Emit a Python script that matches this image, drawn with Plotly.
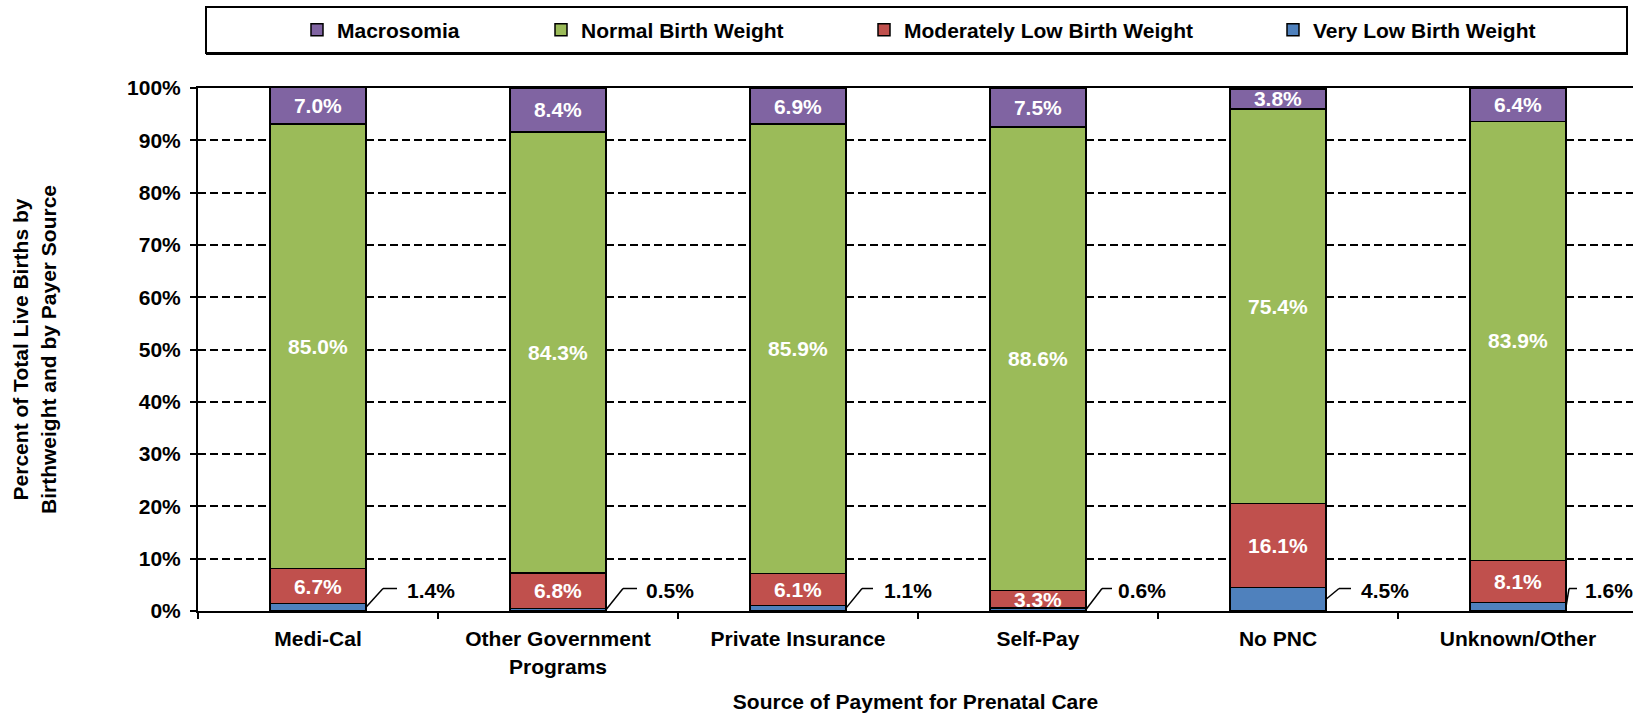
import plotly.graph_objects as go

# ---------------- data ----------------
categories = ["Medi-Cal", "Other Government<br>Programs", "Private Insurance",
              "Self-Pay", "No PNC", "Unknown/Other"]
very_low = [1.4, 0.5, 1.1, 0.6, 4.5, 1.6]
moderately_low = [6.7, 6.8, 6.1, 3.3, 16.1, 8.1]
normal = [85.0, 84.3, 85.9, 88.6, 75.4, 83.9]
macrosomia = [7.0, 8.4, 6.9, 7.5, 3.8, 6.4]
y_ticks = list(range(0, 101, 10))
y_tick_labels = [f"{v}%" for v in y_ticks]

# ---------------- geometry / style ----------------
W, H = 1633, 720
L, T, B = 198, 88, 611
PW, PH = W - L, B - T
PX_PER_CAT = 240.0
BAR_W = 0.4
FONT = "Liberation Sans, Arial, sans-serif"
FS = 21
label_offsets = [39, 38, 36, 30, 33, 17]   # px from bar edge to call-out text
elbow_dx = [17, 17, 16, 16, 13, 3]         # px from bar edge to leader elbow
run_dx = [31, 31, 27, 26, 25, 11]          # px from bar edge to leader end

def px_x(p):
    return (p - L) / PW

def px_y(p):
    return (B - p) / PH

colors = {
    "Macrosomia": "#8064A2",
    "Normal Birth Weight": "#9BBB59",
    "Moderately Low Birth Weight": "#C0504D",
    "Very Low Birth Weight": "#4F81BD",
}

fig = go.Figure()

series = [
    ("Very Low Birth Weight", very_low, False, "legend4"),
    ("Moderately Low Birth Weight", moderately_low, True, "legend3"),
    ("Normal Birth Weight", normal, True, "legend2"),
    ("Macrosomia", macrosomia, True, "legend"),
]
for name, vals, show_text, lg in series:
    fig.add_trace(go.Bar(
        name=name, x=categories, y=vals, width=BAR_W,
        marker=dict(color=colors[name], line=dict(color="black", width=1.5)),
        text=[f"{v:.1f}%" for v in vals] if show_text else None,
        textposition="inside" if show_text else "none",
        insidetextanchor="middle", textangle=0,
        textfont=dict(color="white", size=FS, family=FONT, weight="bold"),
        legend=lg, showlegend=True,
    ))

# call-out labels for the very-low segment
LABEL_Y = 4.0
for i, v in enumerate(very_low):
    x0 = i + BAR_W / 2
    xe = x0 + elbow_dx[i] / PX_PER_CAT
    xh = x0 + run_dx[i] / PX_PER_CAT
    fig.add_shape(type="line", xref="x", yref="y", x0=x0, y0=v / 2, x1=xe, y1=LABEL_Y + 0.3,
                  line=dict(color="black", width=1.5))
    fig.add_shape(type="line", xref="x", yref="y", x0=xe, y0=LABEL_Y + 0.3, x1=xh, y1=LABEL_Y + 0.3,
                  line=dict(color="black", width=1.5))
    fig.add_annotation(x=x0, y=LABEL_Y, xref="x", yref="y", text=f"{v:.1f}%",
                       showarrow=False, xanchor="left", yanchor="middle",
                       xshift=label_offsets[i],
                       font=dict(size=FS, color="black", family=FONT, weight="bold"))

# legend frame
fig.add_shape(type="rect", xref="paper", yref="paper",
              x0=px_x(206), x1=px_x(1627), y0=px_y(53), y1=px_y(7),
              line=dict(color="black", width=2), fillcolor="rgba(0,0,0,0)", layer="above")
fig.add_shape(type="line", xref="paper", yref="paper",
              x0=px_x(206), x1=px_x(1628), y0=px_y(53.5), y1=px_y(53.5),
              line=dict(color="black", width=3))

leg_common = dict(orientation="h", yanchor="middle", y=px_y(30), xanchor="left",
                  font=dict(size=FS, color="black", family=FONT, weight="bold"),
                  bgcolor="rgba(0,0,0,0)", borderwidth=0)
legend_left = [297, 541, 864, 1273]

fig.update_layout(
    width=W, height=H,
    margin=dict(l=L, r=0, t=T, b=H - B, pad=0, autoexpand=False),
    paper_bgcolor="white", plot_bgcolor="white",
    barmode="stack", bargap=0.6,
    font=dict(family=FONT, size=FS, color="black", weight="bold"),
    uniformtext=dict(minsize=FS, mode="show"),
    legend=dict(x=px_x(legend_left[0]), **leg_common),
    legend2=dict(x=px_x(legend_left[1]), **leg_common),
    legend3=dict(x=px_x(legend_left[2]), **leg_common),
    legend4=dict(x=px_x(legend_left[3]), **leg_common),
    xaxis=dict(
        type="category", range=[-0.5, -0.5 + PW / PX_PER_CAT], automargin=False,
        showline=True, linecolor="black", linewidth=2, mirror=True,
        ticks="outside", tickson="boundaries", ticklen=6, tickwidth=2, tickcolor="black",
        showgrid=False, ticklabelstandoff=8,
        tickfont=dict(size=FS, family=FONT, weight="bold"),
        title=dict(text="Source of Payment for Prenatal Care", standoff=18,
                   font=dict(size=FS, family=FONT, weight="bold")),
    ),
    yaxis=dict(
        range=[0, 100], tickmode="array", tickvals=y_ticks, ticktext=y_tick_labels,
        automargin=False,
        showline=True, linecolor="black", linewidth=2,
        ticks="outside", ticklen=6, tickwidth=2, tickcolor="black",
        showgrid=True, gridcolor="black", gridwidth=2, griddash="8px,4px",
        zeroline=False, tickfont=dict(size=FS, family=FONT, weight="bold"),
        ticklabelstandoff=5,
        title=dict(text="Percent of Total Live Births by<br>Birthweight and by Payer Source",
                   standoff=65, font=dict(size=FS, family=FONT, weight="bold")),
    ),
)

fig.write_html("out.html", config={"displayModeBar": False},
               post_script="document.body.style.margin='0';document.body.style.overflow='hidden';")
